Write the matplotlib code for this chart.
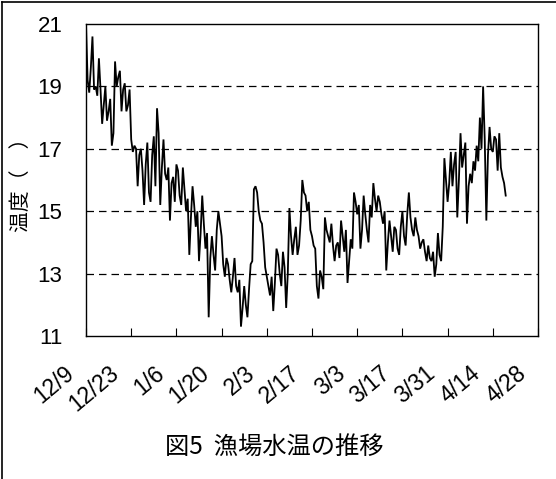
import matplotlib
matplotlib.use('Agg')
import matplotlib.pyplot as plt
import matplotlib.transforms as mtransforms
from matplotlib.lines import Line2D
import numpy as np

# x tick labels (every 14 days from 12/9)
tick_labels = ['12/9', '12/23', '1/6', '1/20', '2/3', '2/17', '3/3', '3/17', '3/31', '4/14', '4/28']
tick_days = [0, 14, 28, 42, 56, 70, 84, 98, 112, 126, 140]

y_ticks = [11, 13, 15, 17, 19, 21]

# water temperature, first reading of each day from 12/9
temps_a = [21.0, 18.8, 20.6, 19.0, 19.9, 17.8, 19.0, 18.2, 17.1, 19.8,
           19.3, 18.2, 19.1, 18.4, 17.3, 17.1, 15.8, 17.0, 15.2, 17.2,
           15.3, 17.4, 18.3, 15.2, 17.3, 16.0, 14.7, 16.1, 16.5, 15.5,
           16.4, 15.0, 13.6, 15.8, 14.5, 13.4, 15.5, 13.8, 11.6, 14.2,
           13.1, 15.0, 14.2, 12.9, 13.3, 12.4, 13.5, 12.4, 11.3, 12.6,
           11.6, 13.3, 15.7, 15.6, 14.7, 14.0, 12.9, 12.3, 11.8, 13.8,
           13.0, 13.7, 11.9, 15.1, 13.6, 14.5, 13.9, 16.0, 15.5, 15.3,
           14.2, 13.8, 12.2, 12.9, 14.8, 14.2, 14.6, 13.4, 14.0, 14.7,
           13.7, 12.7, 14.1, 15.6, 14.9, 13.8, 15.5, 14.4, 15.2, 15.9,
           15.0, 15.3, 14.6, 13.1, 14.7, 13.7, 14.4, 13.6, 15.0, 13.9,
           15.6, 14.4, 14.8, 14.2, 14.0, 13.7, 13.9, 13.4, 12.9, 14.3,
           13.4, 16.7, 15.3, 16.9, 16.5, 14.8, 17.5, 16.8, 14.6, 16.2,
           16.6, 17.1, 18.0, 19.0, 14.7, 17.7, 16.9, 17.3, 17.5, 16.1,
           15.5]
# second reading of each day (half a day later)
temps_b = [19.2, 19.6, 18.9, 18.7, 18.9, 18.4, 17.9, 18.6, 17.5, 19.0,
           19.5, 18.9, 18.2, 18.9, 16.9, 17.0, 16.8, 16.3, 16.5, 15.6,
           16.8, 15.8, 17.5, 16.4, 16.2, 16.4, 15.9, 15.3, 16.3, 15.2,
           15.7, 15.4, 14.8, 15.2, 15.0, 14.3, 14.6, 14.3, 13.5, 13.6,
           14.4, 14.6, 13.3, 13.5, 12.8, 12.9, 12.6, 12.8, 11.9, 12.0,
           12.5, 13.4, 15.8, 15.0, 14.6, 13.2, 12.6, 12.9, 12.7, 13.6,
           12.6, 13.2, 13.0, 14.2, 14.1, 13.6, 14.7, 15.6, 15.0, 14.4,
           13.9, 12.6, 13.1, 12.5, 14.4, 14.0, 13.9, 13.9, 13.5, 14.2,
           14.4, 13.4, 13.8, 15.3, 15.2, 14.4, 14.9, 14.0, 14.8, 15.4,
           15.5, 14.9, 15.0, 14.0, 14.2, 14.5, 13.8, 14.5, 14.2, 14.9,
           14.8, 14.2, 14.4, 13.8, 14.1, 13.4, 13.5, 13.7, 13.3, 13.6,
           14.5, 16.0, 15.9, 15.8, 16.9, 16.0, 16.4, 17.2, 15.8, 15.9,
           16.3, 16.6, 17.0, 17.3, 16.8, 17.0, 17.4, 16.3, 16.4, 15.9]

n = len(temps_a)
x_vals = []
y_vals = []
for i in range(n):
    x_vals.append(i)
    y_vals.append(temps_a[i])
    if i < len(temps_b):
        x_vals.append(i + 0.5)
        y_vals.append(temps_b[i])

title = '図5  漁場水温の推移'
ylabel = '温度（　）'

W, H = 556, 479
fig = plt.figure(figsize=(W / 100, H / 100), dpi=100)
ax = fig.add_axes([86 / W, 1 - 336 / H, (538 - 86) / W, (336 - 24) / H])

ax.plot(x_vals, y_vals, color='black', lw=1.3, solid_joinstyle='miter')

ax.set_xlim(0, 140)
ax.set_ylim(11, 21)
ax.set_yticks(y_ticks)
ax.set_yticklabels([str(v) for v in y_ticks], fontsize=16, family=['Liberation Sans'])
ax.tick_params(axis='y', length=0, pad=17)
for v in y_ticks[1:-1]:
    ax.axhline(v, color='black', lw=0.9, dashes=(6, 4), zorder=0)

ax.set_xticks(tick_days)
ax.set_xticklabels(tick_labels, fontsize=16.5, family=['Liberation Sans'],
                   rotation=40, ha='right', va='center', rotation_mode='anchor')
ax.tick_params(axis='x', direction='in', length=6, width=0.8, pad=25)
offset = mtransforms.ScaledTranslation(-15 / 100, 0, fig.dpi_scale_trans)
for lbl in ax.get_xticklabels():
    lbl.set_transform(lbl.get_transform() + offset)

for s in ax.spines.values():
    s.set_linewidth(1.0)
    s.set_color('black')

ax.set_ylabel(ylabel, fontsize=15, family=['Noto Sans CJK JP'], labelpad=4)

fig.text(274 / W, 1 - 447 / H, title, fontsize=17.5, family=['Noto Sans CJK JP', 'DejaVu Sans'],
         ha='center', va='center')

# outer chart frame (left and top)
fig.add_artist(Line2D([1.5 / W, 1.5 / W], [0, 1 - 1.5 / H], color='black', lw=1.2, transform=fig.transFigure))
fig.add_artist(Line2D([1.5 / W, 1], [1 - 1.5 / H, 1 - 1.5 / H], color='black', lw=1.2, transform=fig.transFigure))

fig.savefig('out.png', dpi=100)
